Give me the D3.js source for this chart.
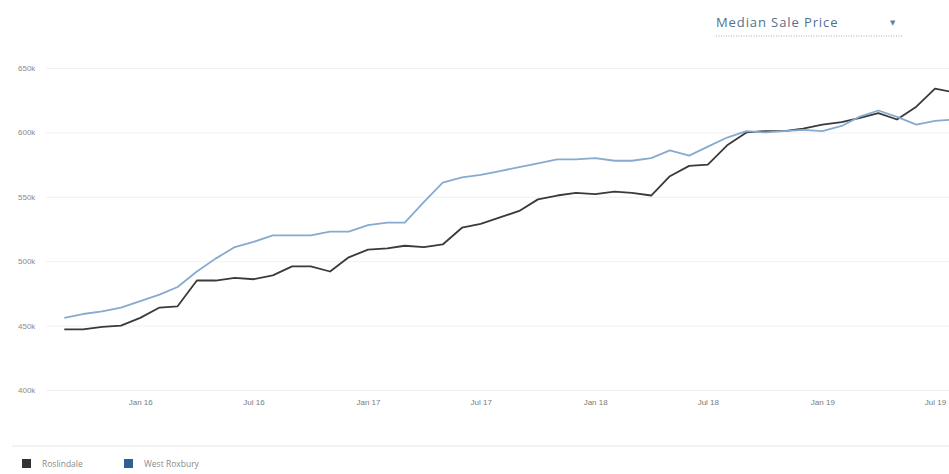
<!DOCTYPE html>
<html>
<head>
<meta charset="utf-8">
<script src="https://cdn.jsdelivr.net/npm/d3@7"></script>
<style>
    body { margin: 0; background: #fff; font-family: "Open Sans", "DejaVu Sans", sans-serif; }
    svg { display: block; }
</style>
</head>
<body>
<div id="viewport"></div>
<script>

// monthly, Sep 2015 .. Aug 2019
var months = d3.timeMonths(new Date(2015, 8, 1), new Date(2019, 8, 1));

var seriesNames = ["Roslindale", "West Roxbury"];

// median sale price, thousands of dollars
var roslindale = [447, 447, 449, 450, 456, 464, 465, 485, 485, 487, 486, 489,
                  496, 496, 492, 503, 509, 510, 512, 511, 513, 526, 529, 534,
                  539, 548, 551, 553, 552, 554, 553, 551, 566, 574, 575, 590,
                  600, 601, 601, 603, 606, 608, 611, 615, 610, 620, 634, 631];

var westRoxbury = [456, 459, 461, 464, 469, 474, 480, 492, 502, 511, 515, 520,
                   520, 520, 523, 523, 528, 530, 530, 546, 561, 565, 567, 570,
                   573, 576, 579, 579, 580, 578, 578, 580, 586, 582, 589, 596,
                   601, 600, 601, 602, 601, 605, 612, 617, 612, 606, 609, 610];

var yTicks = [400, 450, 500, 550, 600, 650];
var xTicks = [new Date(2016, 0, 1), new Date(2016, 6, 1), new Date(2017, 0, 1), new Date(2017, 6, 1),
              new Date(2018, 0, 1), new Date(2018, 6, 1), new Date(2019, 0, 1), new Date(2019, 6, 1)];

var colors = ["#3a3a3a", "#86aad0"];
var legendColors = ["#333333", "#2f5f93"];

var width = 949, height = 474;

var svg = d3.select("#viewport").append("svg")
    .attr("width", width)
    .attr("height", height);

var x = d3.scaleTime()
    .domain([new Date(2015, 8, 1), new Date(2019, 6, 1)])
    .range([64.3, 935]);

var y = d3.scaleLinear()
    .domain([400, 650])
    .range([390, 68]);

// dropdown label
var dd = svg.append("g").attr("transform", "translate(716,27)");
dd.append("text")
    .attr("x", 0).attr("y", 0)
    .attr("fill", "#54708f")
    .style("font-size", "13px")
    .style("letter-spacing", "0.9px")
    .text("Median Sale Price");
dd.append("text")
    .attr("x", 174).attr("y", -2)
    .attr("fill", "#6a7f96")
    .style("font-size", "7px")
    .text("\u25BC");
dd.append("line")
    .attr("x1", 0).attr("x2", 186)
    .attr("y1", 9).attr("y2", 9)
    .attr("stroke", "#9fb2c6")
    .attr("stroke-width", 1)
    .attr("stroke-dasharray", "1,1.5");

// y grid and labels
var yAxis = svg.append("g")
    .attr("transform", "translate(46,0)")
    .call(d3.axisRight(y).tickValues(yTicks).tickSize(width).tickFormat(function(d) { return d + "k"; }));
yAxis.select(".domain").remove();
yAxis.selectAll(".tick line").attr("stroke", "#f1f1f1");
yAxis.selectAll(".tick text")
    .attr("x", -28)
    .attr("dy", "0.32em")
    .attr("text-anchor", "start")
    .attr("fill", "#8a8a8a")
    .style("font-size", "8px");

// x labels
var xAxis = svg.append("g")
    .attr("transform", "translate(0,396)")
    .call(d3.axisBottom(x).tickValues(xTicks).tickSize(0).tickFormat(d3.timeFormat("%b %y")));
xAxis.select(".domain").remove();
xAxis.selectAll(".tick text")
    .attr("fill", "#7a7a7a")
    .style("font-size", "8px");

// lines
var line = d3.line()
    .x(function(d, i) { return x(months[i]); })
    .y(function(d) { return y(d); });

[roslindale, westRoxbury].forEach(function(s, k) {
    svg.append("path")
        .datum(s)
        .attr("fill", "none")
        .attr("stroke", colors[k])
        .attr("stroke-width", 1.8)
        .attr("stroke-linejoin", "round")
        .attr("d", line);
});

// legend
svg.append("line")
    .attr("x1", 12).attr("x2", width)
    .attr("y1", 446).attr("y2", 446)
    .attr("stroke", "#e6e6e6");

var lx = [22, 124];
seriesNames.forEach(function(name, k) {
    var g = svg.append("g").attr("transform", "translate(" + lx[k] + ",459)");
    g.append("rect")
        .attr("width", 9).attr("height", 9)
        .attr("fill", legendColors[k]);
    g.append("text")
        .attr("x", 20).attr("y", 8)
        .attr("fill", "#8a8a8a")
        .style("font-size", "8.5px")
        .text(name);
});

</script>
</body>
</html>
